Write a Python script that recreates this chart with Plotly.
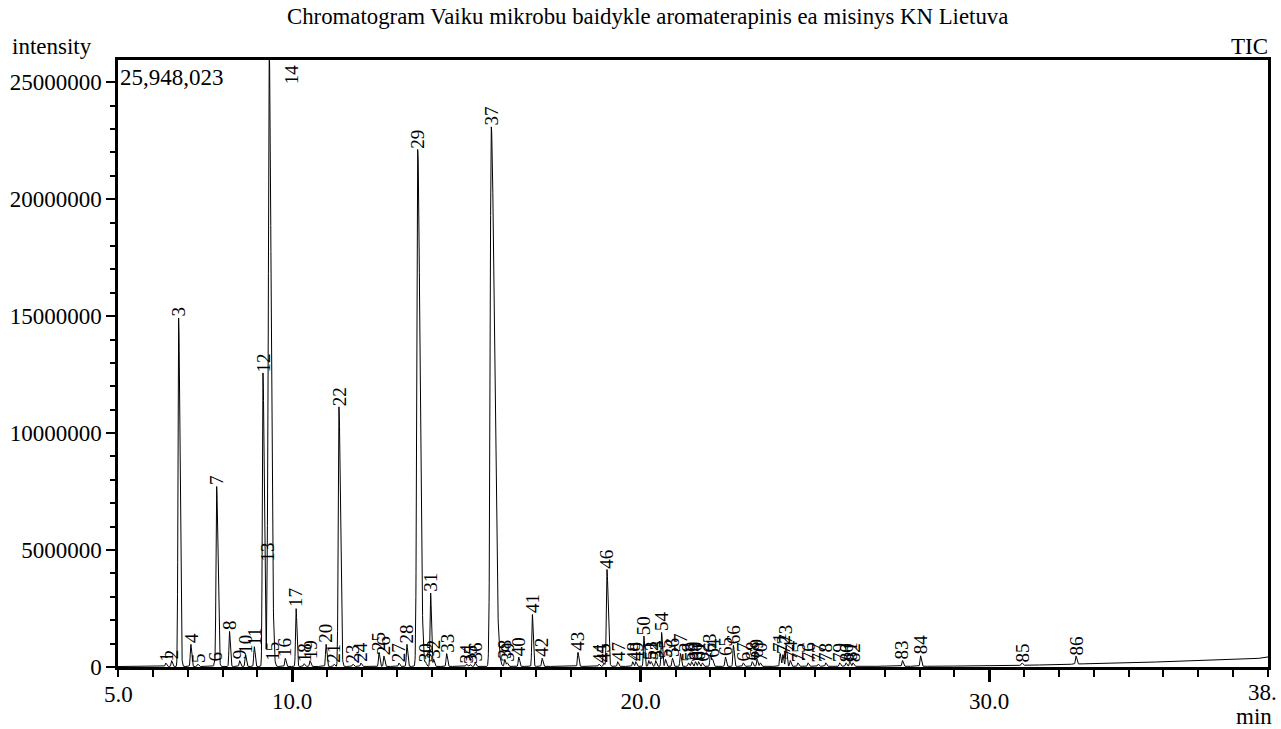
import numpy as np
import plotly.graph_objects as go

title_text = "Chromatogram Vaiku mikrobu baidykle aromaterapinis ea misinys KN Lietuva"
max_intensity = 25948023

peak_no = list(range(1, 87))
peak_rt = [6.37, 6.54, 6.74, 7.09, 7.29, 7.77, 7.83, 8.20, 8.49, 8.66,
           8.91, 9.16, 9.29, 9.34, 9.43, 9.80, 10.11, 10.34, 10.51, 10.97,
           11.20, 11.34, 11.74, 11.97, 12.49, 12.63, 13.06, 13.29, 13.60, 13.83,
           13.97, 14.06, 14.43, 15.00, 15.10, 15.25, 15.71, 16.10, 16.17, 16.50,
           16.89, 17.17, 18.20, 18.80, 18.94, 19.03, 19.34, 19.77, 19.86, 20.09,
           20.23, 20.30, 20.43, 20.60, 20.71, 20.91, 21.14, 21.37, 21.46, 21.57,
           21.66, 21.77, 22.00, 22.06, 22.43, 22.66, 22.94, 23.20, 23.34, 23.43,
           24.00, 24.08, 24.17, 24.29, 24.51, 24.80, 25.09, 25.31, 25.71, 25.89,
           26.00, 26.09, 27.51, 28.03, 30.94, 32.49]
peak_height_m = [0.15, 0.25, 14.9, 0.95, 0.1, 0.15, 7.7, 1.5, 0.25, 0.5,
                 0.85, 12.55, 4.45, 25.948023, 0.2, 0.35, 2.48, 0.12, 0.25, 0.95,
                 0.1, 11.1, 0.1, 0.15, 0.6, 0.45, 0.15, 0.95, 22.1, 0.15,
                 3.15, 0.3, 0.55, 0.1, 0.08, 0.15, 23.07, 0.3, 0.15, 0.4,
                 2.23, 0.35, 0.6, 0.1, 0.15, 4.15, 0.2, 0.2, 0.2, 1.3,
                 0.25, 0.2, 0.25, 1.45, 0.3, 0.35, 0.55, 0.15, 0.2, 0.2,
                 0.2, 0.15, 0.55, 0.3, 0.4, 0.9, 0.15, 0.2, 0.3, 0.15,
                 0.55, 0.5, 0.9, 0.25, 0.15, 0.15, 0.1, 0.15, 0.15, 0.15,
                 0.2, 0.15, 0.25, 0.45, 0.1, 0.35]
# peak widths (min) and right-side tailing factor
peak_width = [0.016] * 86
peak_tail = [1.5] * 86
for i, w, tl in [(2, 0.018, 2.0), (6, 0.018, 2.0), (11, 0.018, 2.0), (13, 0.022, 2.5),
                 (21, 0.02, 2.0), (28, 0.026, 2.5), (36, 0.03, 3.0), (45, 0.018, 2.0)]:
    peak_width[i] = w
    peak_tail[i] = tl

baseline_t = [5.0, 28.0, 30.0, 32.0, 33.0, 34.0, 35.0, 36.0, 37.0, 37.6, 38.0]
baseline_m = [0.02, 0.03, 0.05, 0.1, 0.15, 0.19, 0.22, 0.26, 0.3, 0.34, 0.43]

x_major = [10, 20, 30]
x_major_text = ["10.0", "20.0", "30.0"]

# build trace from peak table
t = np.arange(5.0, 38.0001, 0.004)
sig = np.interp(t, baseline_t, baseline_m) * 1e6
for rt, h, w, tl in zip(peak_rt, peak_height_m, peak_width, peak_tail):
    s = np.where(t < rt, w, w * tl)
    sig = sig + h * 1e6 * np.exp(-0.5 * ((t - rt) / s) ** 2)

FONT = "Liberation Serif, Times New Roman, serif"
FS = 23

fig = go.Figure()
fig.add_trace(go.Scatter(x=t, y=sig, mode="lines",
                         line=dict(color="black", width=1), hoverinfo="skip",
                         showlegend=False))

ann = []
for n, rt, h in zip(peak_no, peak_rt, peak_height_m):
    base = float(np.interp(rt, baseline_t, baseline_m))
    yv = (h + base) * 1e6
    if yv >= max_intensity * 0.99:
        ann.append(dict(x=rt, y=max_intensity, xref="x", yref="y", text=str(n),
                        textangle=-90, showarrow=False, xanchor="center",
                        yanchor="top", xshift=22, yshift=-2,
                        font=dict(family=FONT, size=19, color="black")))
    else:
        ann.append(dict(x=rt, y=yv, xref="x", yref="y", text=str(n),
                        textangle=-90, showarrow=False, xanchor="center",
                        yanchor="bottom", yshift=-1,
                        font=dict(family=FONT, size=19, color="black")))

# frame texts
ann += [
    dict(x=(647 - 115) / 1156, y=1, xref="paper", yref="paper", text=title_text,
         showarrow=False, xanchor="center", yanchor="bottom", yshift=29,
         font=dict(family=FONT, size=22.8, color="black")),
    dict(x=0, y=1, xref="paper", yref="paper", text="intensity", showarrow=False,
         xanchor="left", yanchor="bottom", xshift=-108, yshift=-1,
         font=dict(family=FONT, size=FS, color="black")),
    dict(x=1, y=1, xref="paper", yref="paper", text="TIC", showarrow=False,
         xanchor="right", yanchor="bottom", xshift=2, yshift=-1,
         font=dict(family=FONT, size=FS, color="black")),
    dict(x=0, y=1, xref="paper", yref="paper", text="25,948,023", showarrow=False,
         xanchor="left", yanchor="top", xshift=0, yshift=-3,
         font=dict(family=FONT, size=FS, color="black")),
    dict(x=1, y=0, xref="paper", yref="paper", text="min", showarrow=False,
         xanchor="right", yanchor="top", xshift=5, yshift=-36, borderpad=0,
         font=dict(family=FONT, size=FS, color="black")),
    dict(x=5.0, y=0, xref="x", yref="paper", text="5.0", showarrow=False,
         xanchor="center", yanchor="top", yshift=-13,
         font=dict(family=FONT, size=FS, color="black")),
    dict(x=38.0, y=0, xref="x", yref="paper", text="38.", showarrow=False,
         xanchor="right", yanchor="top", xshift=10, yshift=-12, borderpad=0,
         font=dict(family=FONT, size=FS, color="black")),
]

fig.update_layout(
    width=1281, height=729,
    margin=dict(l=115, r=10, t=60, b=62),
    paper_bgcolor="white", plot_bgcolor="white",
    font=dict(family=FONT, size=FS, color="black"),
    annotations=ann,
    showlegend=False,
)
fig.update_xaxes(
    range=[5, 38], showgrid=False, zeroline=False,
    showline=True, linecolor="black", linewidth=2.5, mirror=True,
    tickmode="array", tickvals=x_major, ticktext=x_major_text,
    ticks="outside", ticklen=12, tickwidth=2.5, tickcolor="black",
    tickfont=dict(family=FONT, size=FS, color="black"),
    minor=dict(ticks="outside", dtick=1, tick0=5, ticklen=7, tickwidth=2,
               tickcolor="black", showgrid=False),
)
fig.update_yaxes(
    range=[0, max_intensity], showgrid=False, zeroline=False,
    showline=True, linecolor="black", linewidth=2.5, mirror=True,
    tickmode="linear", tick0=0, dtick=5000000, tickformat="d",
    ticks="outside", ticklen=9, tickwidth=2, tickcolor="black",
    tickfont=dict(family=FONT, size=FS, color="black"),
    minor=dict(ticks="outside", dtick=1000000, ticklen=5, tickwidth=2,
               tickcolor="black", showgrid=False),
)

fig.write_html("out.html", config={"displayModeBar": False},
               post_script="document.body.style.margin='0';document.body.style.overflow='hidden';")
